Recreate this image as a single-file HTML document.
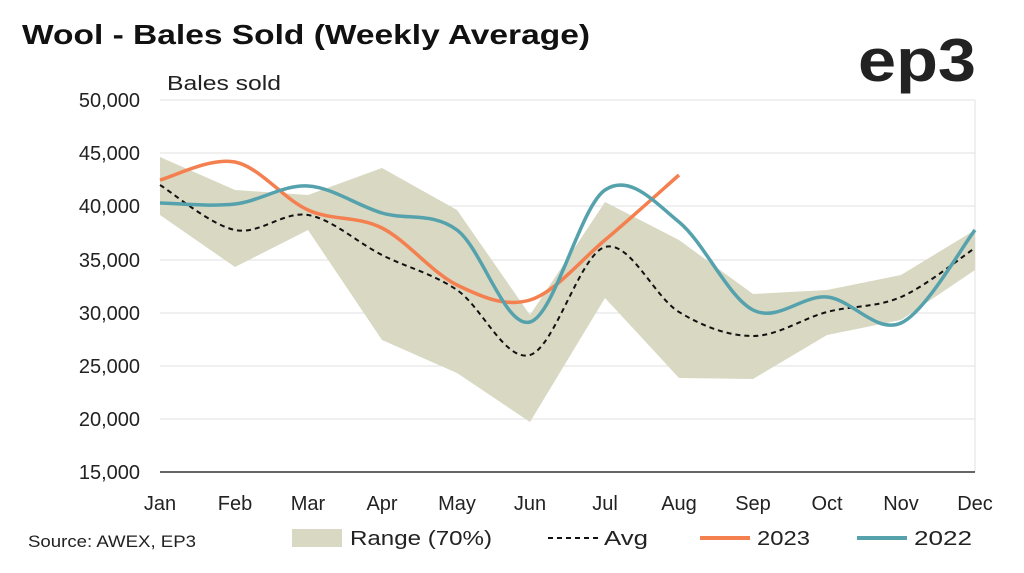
<!DOCTYPE html>
<html><head><meta charset="utf-8"><style>
body{margin:0;background:#fff;width:1024px;height:568px;overflow:hidden;font-family:"Liberation Sans",sans-serif;}
</style></head><body>
<svg id="s" width="1024" height="568" xmlns="http://www.w3.org/2000/svg" font-family="Liberation Sans, sans-serif">
<text x="22" y="44" font-size="28" font-weight="bold" fill="#111" textLength="568" lengthAdjust="spacingAndGlyphs">Wool - Bales Sold (Weekly Average)</text>
<text x="858" y="81" font-size="60" font-weight="bold" fill="#222" textLength="118" lengthAdjust="spacingAndGlyphs">ep3</text>
<text x="167" y="90" font-size="20" fill="#222" textLength="114" lengthAdjust="spacingAndGlyphs">Bales sold</text>
<g stroke="#e2e2e2" stroke-width="1">
<line x1="160" y1="100" x2="975" y2="100"/><line x1="160" y1="153" x2="975" y2="153"/>
<line x1="160" y1="206" x2="975" y2="206"/><line x1="160" y1="260" x2="975" y2="260"/>
<line x1="160" y1="313" x2="975" y2="313"/><line x1="160" y1="366" x2="975" y2="366"/>
<line x1="160" y1="419" x2="975" y2="419"/><line x1="975" y1="100" x2="975" y2="472"/>
</g>
<line x1="160" y1="472" x2="975" y2="472" stroke="#333" stroke-width="1.5"/>
<g font-size="20" fill="#222" text-anchor="end">
<text x="140" y="107">50,000</text><text x="140" y="160">45,000</text><text x="140" y="213">40,000</text>
<text x="140" y="267">35,000</text><text x="140" y="320">30,000</text><text x="140" y="373">25,000</text>
<text x="140" y="426">20,000</text><text x="140" y="479">15,000</text>
</g>
<g font-size="20" fill="#222" text-anchor="middle">
<text x="160" y="510">Jan</text><text x="235" y="510">Feb</text><text x="308" y="510">Mar</text><text x="382" y="510">Apr</text>
<text x="457" y="510">May</text><text x="530" y="510">Jun</text><text x="605" y="510">Jul</text><text x="679" y="510">Aug</text>
<text x="753" y="510">Sep</text><text x="827" y="510">Oct</text><text x="901" y="510">Nov</text><text x="975" y="510">Dec</text>
</g>
<polygon fill="#d8d8c3" points="160,157 235,190 308,195 382,168 457,210 530,315 605,202 679,240 753,294 827,290 901,275 975,230 975,270 901,320 827,335 753,379 679,378 605,298 530,422 457,373 382,340 308,230 235,267 160,215"/>
<path id="avg" fill="none" stroke="#111" stroke-width="2" stroke-dasharray="5,4"/>
<path id="y23" fill="none" stroke="#f47f4f" stroke-width="3.5"/>
<path id="y22" fill="none" stroke="#55a2ad" stroke-width="3.5"/>
<text x="28" y="547" font-size="17" fill="#222" textLength="168" lengthAdjust="spacingAndGlyphs">Source: AWEX, EP3</text>
<rect x="292" y="529" width="50" height="18" fill="#d8d8c3"/>
<text x="350" y="545" font-size="20" fill="#222" textLength="142" lengthAdjust="spacingAndGlyphs">Range (70%)</text>
<line x1="548" y1="538" x2="598" y2="538" stroke="#111" stroke-width="2" stroke-dasharray="5,4"/>
<text x="604" y="545" font-size="20" fill="#222" textLength="44" lengthAdjust="spacingAndGlyphs">Avg</text>
<line x1="700" y1="538" x2="750" y2="538" stroke="#f47f4f" stroke-width="4"/>
<text x="757" y="545" font-size="20" fill="#222" textLength="53" lengthAdjust="spacingAndGlyphs">2023</text>
<line x1="857" y1="538" x2="907" y2="538" stroke="#55a2ad" stroke-width="4"/>
<text x="914" y="545" font-size="20" fill="#222" textLength="58" lengthAdjust="spacingAndGlyphs">2022</text>
</svg>
<script>
function cr(p){var d="M"+p[0][0]+","+p[0][1];for(var i=0;i<p.length-1;i++){var a=p[i-1]||p[i],b=p[i],c=p[i+1],e=p[i+2]||c;
d+=" C"+(b[0]+(c[0]-a[0])/6)+","+(b[1]+(c[1]-a[1])/6)+" "+(c[0]-(e[0]-b[0])/6)+","+(c[1]-(e[1]-b[1])/6)+" "+c[0]+","+c[1];}return d;}
var X=[160,235,308,382,457,530,605,679,753,827,901,975];
function z(y){return y.map(function(v,i){return [X[i],v];});}
document.getElementById("avg").setAttribute("d",cr(z([185,230,215,255,290,355,247,312,336,312,297,248])));
document.getElementById("y23").setAttribute("d",cr(z([180,162,210,228,285,300,240,175])));
document.getElementById("y22").setAttribute("d",cr(z([203,204,186,213,230,322,190,222,310,297,323,230])));
</script>
</body></html>
